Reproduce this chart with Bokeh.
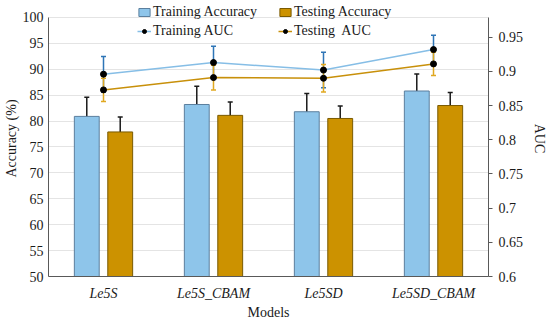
from bokeh.plotting import figure
from bokeh.models import (ColumnDataSource, FactorRange, Range1d, LinearAxis, FixedTicker,
                          Whisker, TeeHead, Legend, LegendItem, NumeralTickFormatter)
from bokeh.transform import dodge
from bokeh.embed import file_html
from bokeh.resources import INLINE

models = ["Le5S", "Le5S_CBAM", "Le5SD", "Le5SD_CBAM"]
train_acc = [80.9, 83.2, 81.8, 85.8]
train_acc_err = [3.7, 3.5, 3.5, 3.3]
test_acc = [77.9, 81.1, 80.5, 83.0]
test_acc_err = [2.9, 2.6, 2.4, 2.5]
train_auc = [0.896, 0.913, 0.902, 0.932]
train_auc_err = [0.026, 0.024, 0.026, 0.021]
test_auc = [0.873, 0.891, 0.890, 0.911]
test_auc_err = [0.017, 0.018, 0.020, 0.017]
acc_ticks = [50, 55, 60, 65, 70, 75, 80, 85, 90, 95, 100]
auc_ticks = [0.6, 0.65, 0.7, 0.75, 0.8, 0.85, 0.9, 0.95]

FONT = "Liberation Serif"
TXT = "#1a1a1a"

ACC_MIN, ACC_MAX = 50, 100
AUC_MIN, AUC_MAX = 0.6, 0.979
PAD = 0.0654

src = ColumnDataSource(dict(
    model=models,
    tr=train_acc, tr_up=[v + e for v, e in zip(train_acc, train_acc_err)],
    tr_lo=[v - e for v, e in zip(train_acc, train_acc_err)],
    te=test_acc, te_up=[v + e for v, e in zip(test_acc, test_acc_err)],
    te_lo=[v - e for v, e in zip(test_acc, test_acc_err)],
    tra=train_auc, tra_up=[v + e for v, e in zip(train_auc, train_auc_err)],
    tra_lo=[v - e for v, e in zip(train_auc, train_auc_err)],
    tea=test_auc, tea_up=[v + e for v, e in zip(test_auc, test_auc_err)],
    tea_lo=[v - e for v, e in zip(test_auc, test_auc_err)],
))

p = figure(width=550, height=322, x_range=FactorRange(*models),
           y_range=Range1d(ACC_MIN, ACC_MAX + PAD * (ACC_MAX - ACC_MIN)),
           output_backend="svg", toolbar_location=None,
           min_border_left=0, min_border_right=0, min_border_top=0, min_border_bottom=0)
p.extra_y_ranges = {"auc": Range1d(AUC_MIN, AUC_MAX + PAD * (AUC_MAX - AUC_MIN))}
p.outline_line_color = None
p.background_fill_color = "white"
p.border_fill_color = "white"

off = 0.152
bw = 0.226
r_tr = p.vbar(x=dodge("model", -off, range=p.x_range), top="tr", bottom=ACC_MIN, width=bw, source=src,
              fill_color="#8EC5EA", line_color="#5B7F9E", line_width=1)
r_te = p.vbar(x=dodge("model", off, range=p.x_range), top="te", bottom=ACC_MIN, width=bw, source=src,
              fill_color="#CC9200", line_color="#7A5A00", line_width=1)

for base_off, up, lo in [(-off, "tr_up", "tr_lo"), (off, "te_up", "te_lo")]:
    w = Whisker(base=dodge("model", base_off, range=p.x_range), upper=up, lower=lo, source=src,
                line_color="#1a1a1a", line_width=1.5,
                upper_head=TeeHead(size=5, line_color="#1a1a1a", line_width=1.5),
                lower_head=TeeHead(size=5, line_color="#1a1a1a", line_width=1.5))
    p.add_layout(w)

for up, lo, col in [("tra_up", "tra_lo", "#2E75B6"), ("tea_up", "tea_lo", "#E0A820")]:
    w = Whisker(base="model", upper=up, lower=lo, source=src, y_range_name="auc",
                line_color=col, line_width=1.5,
                upper_head=TeeHead(size=5, line_color=col, line_width=1.5),
                lower_head=TeeHead(size=5, line_color=col, line_width=1.5))
    p.add_layout(w)

l_tra = p.line(x="model", y="tra", source=src, y_range_name="auc", line_color="#86BEE6", line_width=1.5)
s_tra = p.scatter(x="model", y="tra", source=src, y_range_name="auc", size=6,
                  fill_color="black", line_color="black")
l_tea = p.line(x="model", y="tea", source=src, y_range_name="auc", line_color="#C8900A", line_width=1.5)
s_tea = p.scatter(x="model", y="tea", source=src, y_range_name="auc", size=6,
                  fill_color="black", line_color="black")

p.xgrid.grid_line_color = None
p.ygrid.grid_line_color = "#E4E4E4"
p.ygrid.ticker = FixedTicker(ticks=acc_ticks)

ax = p.yaxis[0]
ax.ticker = FixedTicker(ticks=acc_ticks)
ax.bounds = (ACC_MIN, ACC_MAX)
ax.axis_label = "Accuracy (%)"
ax.major_tick_out = 0
ax.major_tick_in = 0
ax.minor_tick_out = 0
ax.minor_tick_in = 0
ax.major_label_standoff = 5
ax.axis_label_standoff = 1

ra = LinearAxis(y_range_name="auc", ticker=FixedTicker(ticks=auc_ticks),
                formatter=NumeralTickFormatter(format="0.0[0]"), axis_label="AUC",
                bounds=(AUC_MIN, AUC_MAX))
ra.major_tick_out = 4
ra.major_tick_in = 0
ra.minor_tick_out = 0
ra.minor_tick_in = 0
ra.major_label_standoff = 6
ra.axis_label_standoff = 6
p.add_layout(ra, "right")

xa = p.xaxis[0]
xa.axis_label = "Models"
xa.major_label_text_font_style = "italic"
xa.major_label_standoff = 3
xa.axis_label_standoff = 1

for a in [ax, ra, xa]:
    a.axis_line_color = "#595959"
    a.major_tick_line_color = "#595959" if a is not xa else None
    a.major_label_text_font = FONT
    a.major_label_text_font_size = "14px"
    a.major_label_text_color = TXT
    a.axis_label_text_font = FONT
    a.axis_label_text_font_size = "14px"
    a.axis_label_text_font_style = "normal"
    a.axis_label_text_color = TXT

def mk_legend(items, x):
    lg = Legend(items=items, location=(x, 237), orientation="vertical",
                glyph_width=14, glyph_height=10, label_height=16, label_standoff=2,
                spacing=3, padding=0, margin=0,
                label_text_font=FONT, label_text_font_size="14px", label_text_color=TXT,
                background_fill_alpha=0, border_line_color=None)
    p.add_layout(lg)

mk_legend([LegendItem(label="Training Accuracy", renderers=[r_tr]),
           LegendItem(label="Training AUC", renderers=[l_tra, s_tra])], 89)
mk_legend([LegendItem(label="Testing Accuracy", renderers=[r_te]),
           LegendItem(label="Testing  AUC", renderers=[l_tea, s_tea])], 230)

open("out.html", "w").write(file_html(p, INLINE))
